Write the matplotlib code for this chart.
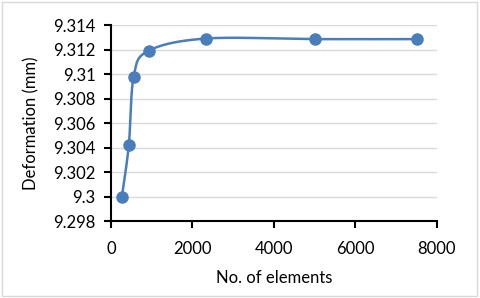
import numpy as np
import matplotlib
matplotlib.use("Agg")
import matplotlib.pyplot as plt
from matplotlib.patches import Rectangle

elements = [270, 440, 560, 925, 2340, 5000, 7520]
deformation = [9.3000, 9.3042, 9.3098, 9.3119, 9.3129, 9.31285, 9.31285]
yticks = [9.298, 9.300, 9.302, 9.304, 9.306, 9.308, 9.310, 9.312, 9.314]
xticks = [0, 2000, 4000, 6000, 8000]

plt.rcParams['font.family'] = ['Lato', 'DejaVu Sans']

def excel_smooth(x, y, n=40):
    x = np.asarray(x, float); y = np.asarray(y, float)
    xs, ys = [], []
    for i in range(len(x) - 1):
        p0 = (x[max(i-1, 0)], y[max(i-1, 0)])
        p1 = (x[i], y[i]); p2 = (x[i+1], y[i+1])
        p3 = (x[min(i+2, len(x)-1)], y[min(i+2, len(x)-1)])
        c1 = (p1[0] + (p2[0]-p0[0])/6, p1[1] + (p2[1]-p0[1])/6)
        c2 = (p2[0] - (p3[0]-p1[0])/6, p2[1] - (p3[1]-p1[1])/6)
        t = np.linspace(0, 1, n)
        bx = (1-t)**3*p1[0] + 3*(1-t)**2*t*c1[0] + 3*(1-t)*t**2*c2[0] + t**3*p2[0]
        by = (1-t)**3*p1[1] + 3*(1-t)**2*t*c1[1] + 3*(1-t)*t**2*c2[1] + t**3*p2[1]
        xs.extend(bx); ys.extend(by)
    return np.array(xs), np.array(ys)

fig = plt.figure(figsize=(4.8, 2.98), dpi=100)
fig.patches.append(Rectangle((0.004, 0.006), 0.99, 0.986, transform=fig.transFigure,
                             fill=False, edgecolor='#d9d9d9', linewidth=1))
ax = fig.add_axes([0.231, 0.258, 0.679, 0.658])

color = '#4A7EBB'
sx, sy = excel_smooth(elements, deformation)
ax.plot(sx, sy, color=color, linewidth=1.8, zorder=3)
ax.plot(elements, deformation, 'o', color=color, markersize=8, zorder=4)

ax.set_xlim(0, 8000)
ax.set_ylim(9.298, 9.314)
ax.set_xticks(xticks)
ax.set_yticks(yticks)
ax.set_xticklabels([str(v) for v in xticks])
ax.set_yticklabels([f"{v:.3f}".rstrip('0').rstrip('.') for v in yticks])
ax.grid(axis='y', color='#d9d9d9', linewidth=1)
ax.set_axisbelow(True)
for s in ['top', 'right']:
    ax.spines[s].set_visible(False)
for s in ['left', 'bottom']:
    ax.spines[s].set_linewidth(1.5)
    ax.spines[s].set_color('black')
ax.tick_params(axis='both', which='major', direction='out', length=5, width=1.5,
               labelsize=12, colors='black')
ax.tick_params(axis='y', pad=6)
ax.tick_params(axis='x', pad=9)
ax.set_xlabel('No. of elements', fontsize=12, labelpad=10)
ax.set_ylabel('Deformation (mm)', fontsize=12, labelpad=10)

fig.savefig('out.png', dpi=100)
